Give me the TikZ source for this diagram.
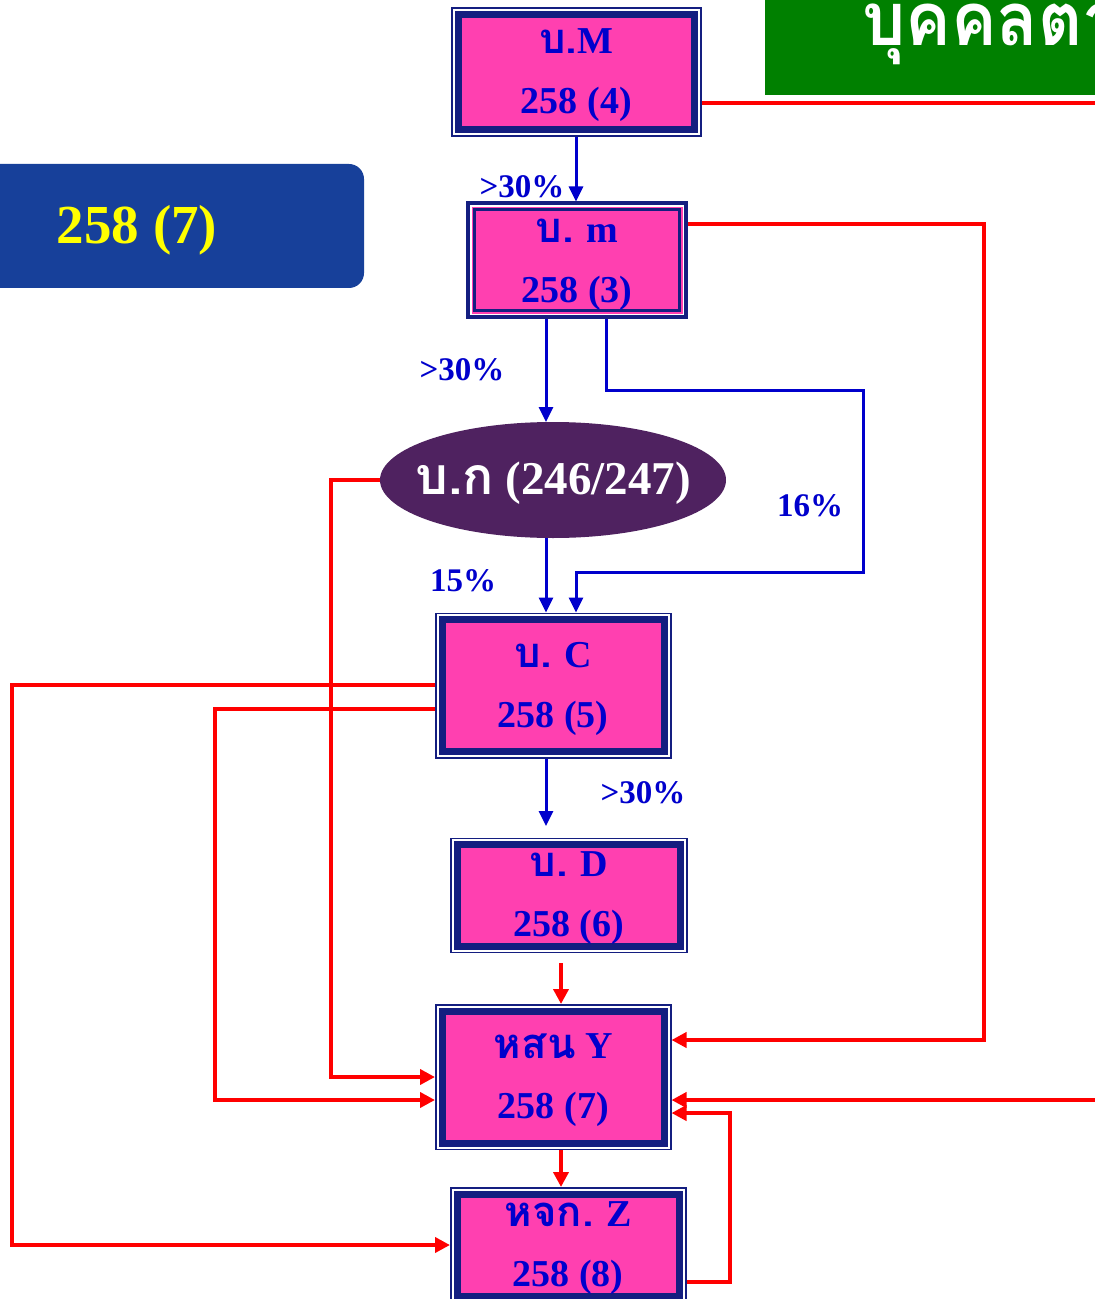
\documentclass[tikz,border=0pt]{standalone}
\usepackage{fontspec}
\setmainfont{Liberation Serif}
\newfontfamily\thai[Script=Thai,Scale=1.1]{Loma}
\newfontfamily\thaititle[Script=Thai]{Loma}
\usetikzlibrary{arrows.meta,shapes.geometric}
\definecolor{pinkc}{HTML}{FF40B0}
\definecolor{navyc}{HTML}{141E80}
\definecolor{textblue}{HTML}{0000CC}
\definecolor{linkblue}{HTML}{0000CC}
\definecolor{redc}{HTML}{FF0000}
\definecolor{purplec}{HTML}{4F2260}
\definecolor{bluebg}{HTML}{17409A}
\definecolor{greenc}{HTML}{008000}
\definecolor{yellowc}{HTML}{FFFF00}
\newcommand\boxfont{\fontsize{19}{30}\selectfont\bfseries}
\newcommand\tstr{\rule{0pt}{16pt}}
\newcommand\bstr{\rule[-4.4pt]{0pt}{0pt}}
\tikzset{
  cbox/.style={rectangle, fill=pinkc, draw=navyc, line width=3.5pt,
    outer sep=3.5pt, inner sep=0pt, align=center, font=\boxfont, text=textblue,
    preaction={draw=navyc, line width=7pt},
    preaction={draw=white, line width=5.5pt}},
  mbox/.style={rectangle, fill=pinkc, draw=navyc, line width=1.5pt,
    outer sep=4.25pt, inner sep=0pt, align=center, font=\boxfont, text=textblue,
    preaction={draw=navyc, line width=8.5pt},
    preaction={draw=white, line width=4.5pt},
    preaction={draw=pinkc, line width=3pt}},
  oval/.style={ellipse, fill=purplec, inner sep=0pt, outer sep=0pt,
    minimum width=173pt, minimum height=58pt, text=white,
    font=\fontsize{23.5}{26}\selectfont\bfseries},
  lab/.style={font=\fontsize{16.5}{18}\selectfont\bfseries, text=textblue, inner sep=0pt},
  bluearrow/.style={draw=linkblue, line width=1.5pt, -{Triangle[length=7.5pt,width=7pt]}},
  redline/.style={draw=redc, line width=2pt},
  redarrow/.style={redline, -{Triangle[length=7.5pt,width=7.5pt]}}
}
\begin{document}
\begin{tikzpicture}[x=0.5pt,y=-0.5pt]
\useasboundingbox (0,0) rectangle (1095,1299);
\clip (0,0) rectangle (1095,1299);
% background boxes
\fill[bluebg, rounded corners=7.5pt] (-40,164) rectangle (364,288);
\node[font=\fontsize{27.5}{30}\selectfont\bfseries, text=yellowc, inner sep=0pt, anchor=base] (t7) at (137,244) {258 (7)};
\fill[greenc] (765,-40) rectangle (1140,95);
\node[font=\fontsize{37}{40}\selectfont\bfseries, text=white, inner sep=0pt, anchor=base west] (title) at (862,46) {\scalebox{0.92}[1]{\thaititle บุคคลตา}};
% nodes
\node[cbox, minimum width=118.25pt, minimum height=57.75pt] (M) at (576.25,72.25) {\tstr{\thai บ.}M\\258 (4)\bstr};
\node[mbox, minimum width=102.5pt, minimum height=50.5pt] (m) at (577,260.5) {\tstr{\thai บ.} m\\258 (3)\bstr};
\node[oval] (e) at (553,480) {\makebox[0pt][c]{\rule[-6pt]{0pt}{26pt}{\thai บ.ก} (246/247)}};
\node[cbox, minimum width=111.25pt, minimum height=66pt] (C) at (553.25,685.5) {\tstr{\thai บ.} C\\258 (5)\bstr};
\node[cbox, minimum width=111.75pt, minimum height=50.75pt] (D) at (568.75,895.25) {\tstr{\thai บ.} D\\258 (6)\bstr};
\node[cbox, minimum width=111.25pt, minimum height=66pt] (Y) at (553.25,1077) {\tstr{\thai หสน} Y\\258 (7)\bstr};
\node[cbox, minimum width=111.25pt, minimum height=51pt] (Z) at (568.25,1245) {\tstr{\thai หจก.} Z\\258 (8)\bstr};
% labels
\node[lab] (l1) at (522,187) {>30\%};
\node[lab] (l2) at (462,370) {>30\%};
\node[lab] (l3) at (810,506) {16\%};
\node[lab] (l4) at (463,581) {15\%};
\node[lab] (l5) at (643,793) {>30\%};
% helper coordinates
\coordinate (x546) at (546,0);
\coordinate (x606) at (606,0);
\coordinate (x576) at (576,0);
\coordinate (x561) at (561,0);
\coordinate (b1) at (863,390);
\coordinate (b2) at (863,572);
\coordinate (dtip) at (546,826);
\coordinate (y103) at (0,103);
\coordinate (y224) at (0,224);
\coordinate (y685) at (0,685);
\coordinate (y709) at (0,709);
\coordinate (y1282) at (0,1282);
\coordinate (edge1) at (1100,103);
\coordinate (edge2) at (1100,1100);
\coordinate (k1) at (984,1040);
\coordinate (k2) at (331,1077);
\coordinate (k3) at (12,1245);
\coordinate (k4) at (215,1100);
\coordinate (k5) at (561,963);
\coordinate (k6) at (730,1113);
% blue connectors
\draw[bluearrow] (M.south -| x576) -- (m.north -| x576);
\draw[bluearrow] (m.south -| x546) -- (e.north -| x546);
\draw[bluearrow] (m.south -| x606) |- (b1) -- (b2) -| (C.north -| x576);
\draw[bluearrow] (e.south -| x546) -- (C.north -| x546);
\draw[bluearrow] (C.south -| x546) -- (dtip);
% red connectors
\draw[redline] (M.east |- y103) -- (edge1);
\draw[redarrow] (m.east |- y224) -| (k1) -- (Y.east |- k1);
\draw[redarrow] (e.west) -| (k2) -- (Y.west |- k2);
\draw[redarrow] (C.west |- y685) -| (k3) -- (Z.west |- k3);
\draw[redarrow] (C.west |- y709) -| (k4) -- (Y.west |- k4);
\draw[redarrow] (k5) -- (Y.north -| k5);
\draw[redarrow] (Y.south -| x561) -- (Z.north -| x561);
\draw[redarrow] (Z.east |- y1282) -| (k6) -- (Y.east |- k6);
\draw[redarrow] (edge2) -- (Y.east |- edge2);
\end{tikzpicture}
\end{document}
